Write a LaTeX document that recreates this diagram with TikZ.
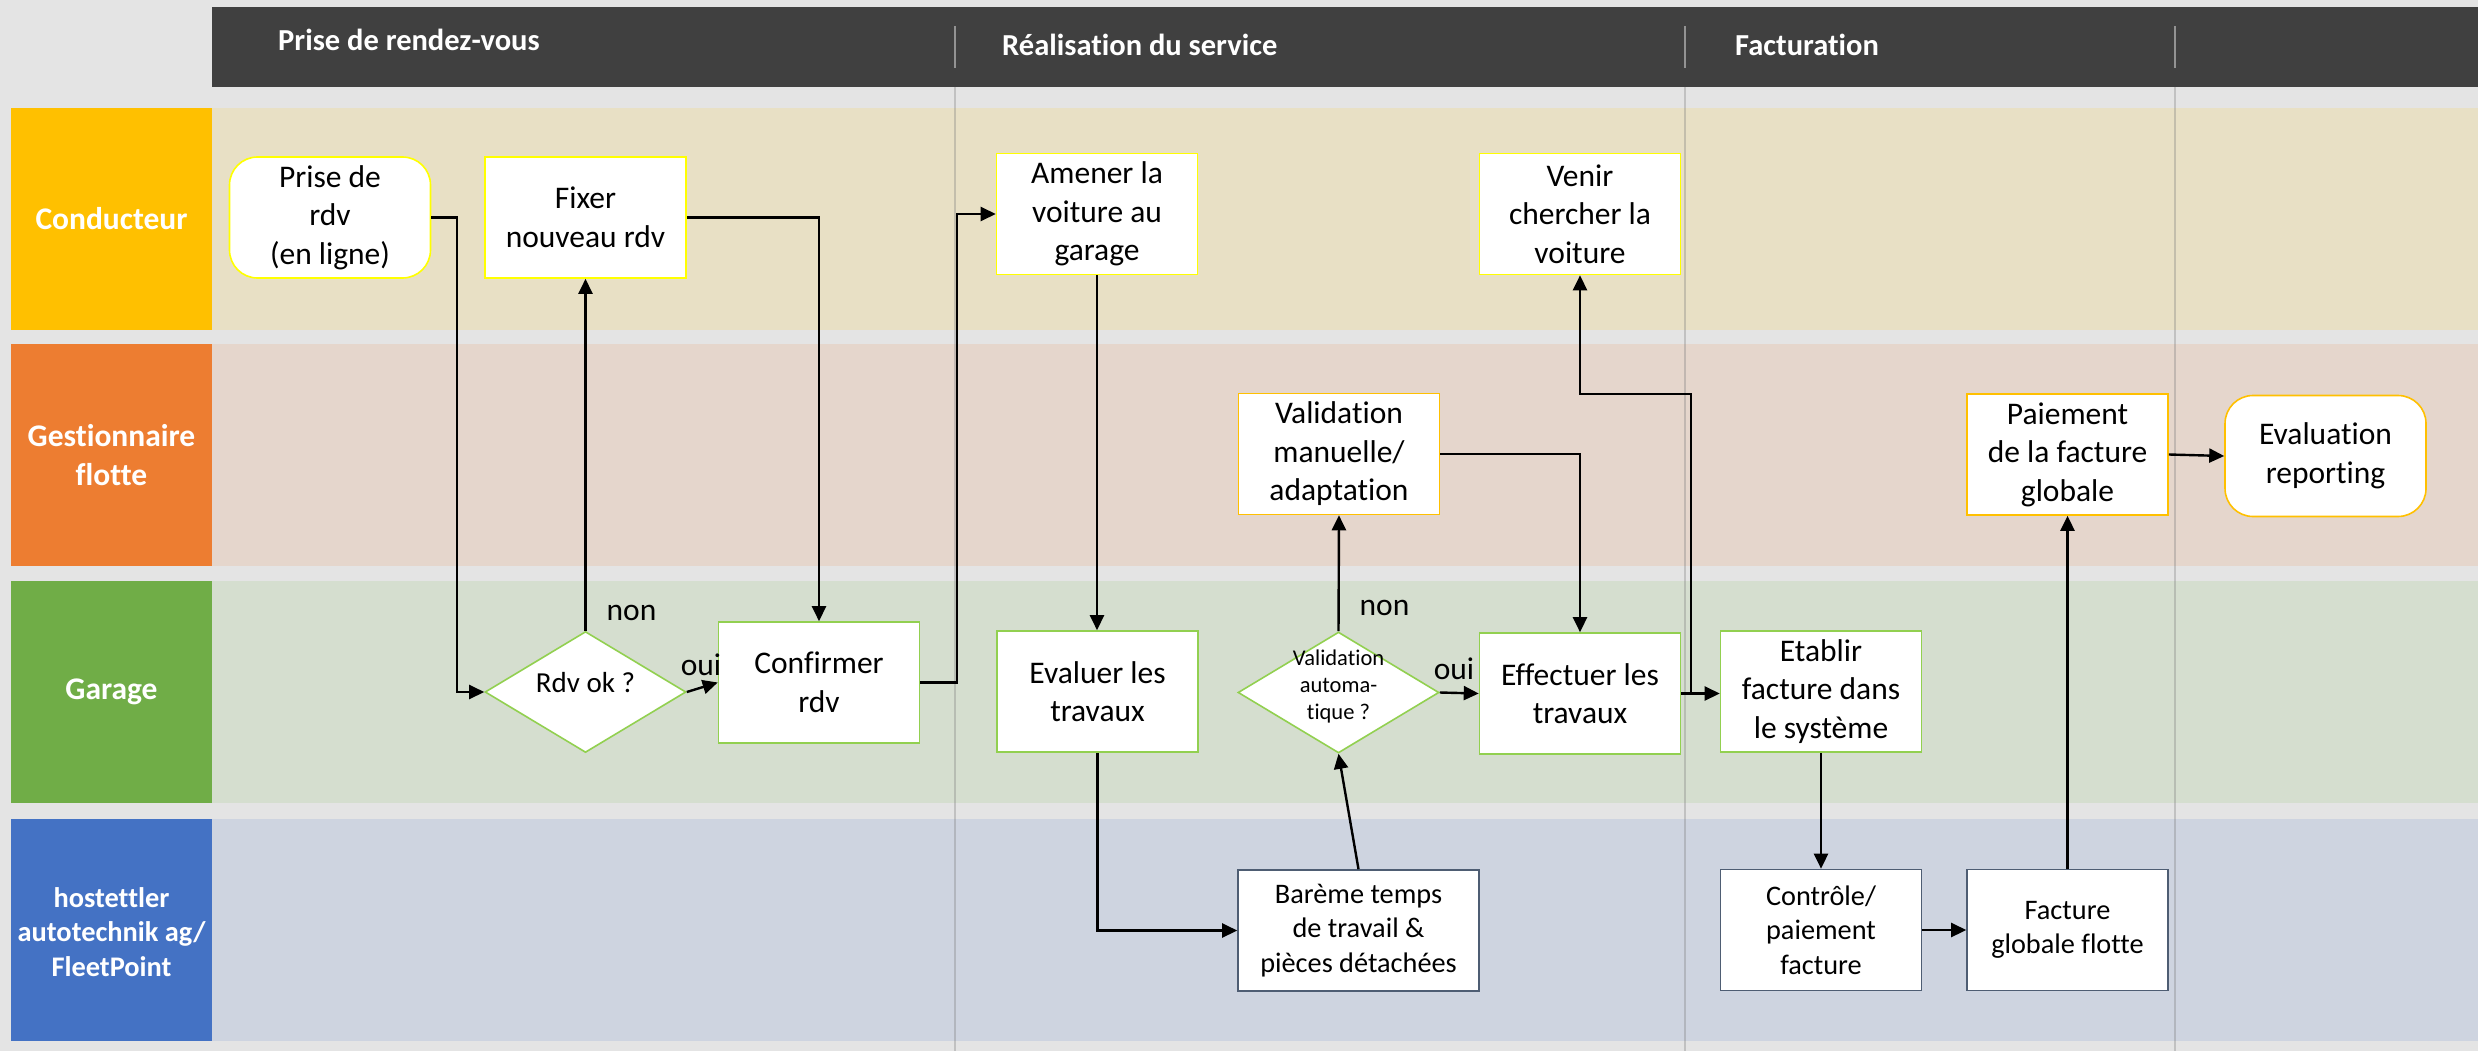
\documentclass[tikz,border=0pt]{standalone}
\usepackage{fontspec}
\setmainfont[Ligatures=NoCommon]{Carlito}
\usetikzlibrary{arrows.meta,shapes.geometric}
\definecolor{bgc}{HTML}{E4E4E4}
\definecolor{hdr}{HTML}{404040}
\definecolor{lane1}{HTML}{E8E0C5}
\definecolor{lane2}{HTML}{E5D6CC}
\definecolor{lane3}{HTML}{D5DECF}
\definecolor{lane4}{HTML}{CED4E0}
\definecolor{lab1}{HTML}{FFC000}
\definecolor{lab2}{HTML}{ED7D31}
\definecolor{lab3}{HTML}{70AD47}
\definecolor{lab4}{HTML}{4472C4}
\definecolor{byel}{HTML}{FFFF00}
\definecolor{bgold}{HTML}{FFC000}
\definecolor{bgreen}{HTML}{92D050}
\definecolor{bslate}{HTML}{4E5D73}
\begin{document}
\begin{tikzpicture}[x=1pt,y=-1pt,
  box/.style={draw, fill=white, line width=1.6pt, minimum width=201pt, minimum height=121pt,
    inner sep=0pt, align=center, font=\fontsize{31.5pt}{38.5pt}\selectfont},
  hbox/.style={box, draw=bslate, font=\fontsize{28.3pt}{34.4pt}\selectfont},
  dia/.style={draw=bgreen, fill=white, line width=1.6pt, shape=diamond, minimum width=201pt,
    minimum height=121pt, inner sep=0pt},
  conn/.style={line width=2.4pt, -{Triangle[length=15pt,width=14pt]}},
  lbl/.style={inner sep=0pt, font=\fontsize{31.5pt}{38.5pt}\selectfont},
  lanelab/.style={text=white, align=center, inner sep=0pt, font=\fontsize{31.5pt}{38.4pt}\selectfont\bfseries},
  hdrtxt/.style={text=white, inner sep=0pt, anchor=base west, font=\fontsize{30.5pt}{36pt}\selectfont\bfseries},
  hsep/.style={draw=gray!85, line width=2.4pt},
  vsep/.style={draw=black!50, opacity=0.35, line width=2.2pt}
]
\useasboundingbox (0,0) rectangle (2478,1051);
\fill[bgc] (0,0) rectangle (2478,1051);
% header
\fill[hdr] (212,7) rectangle (2478,87);
% lanes
\fill[lane1] (212,108) rectangle (2478,330);
\fill[lane2] (212,344) rectangle (2478,566);
\fill[lane3] (212,581) rectangle (2478,803);
\fill[lane4] (212,819) rectangle (2478,1041);
\fill[lab1] (11,108) rectangle (212,330);
\fill[lab2] (11,344) rectangle (212,566);
\fill[lab3] (11,581) rectangle (212,803);
\fill[lab4] (11,819) rectangle (212,1041);
% separators
\foreach \x in {955,1685,2175} {
  \draw[hsep] (\x,26) -- (\x,68);
  \draw[vsep] (\x,87) -- (\x,1051);
}
% header texts
\node[hdrtxt] (h1) at (278,51) {Prise de rendez-vous};
\node[hdrtxt] (h2) at (1002,56) {Réalisation du service};
\node[hdrtxt] (h3) at (1735,56) {Facturation};
% lane labels
\node[lanelab] (l1) at (111.5,219) {Conducteur};
\node[lanelab] (l2) at (111.5,455) {Gestionnaire\\flotte};
\node[lanelab] (l3) at (111.5,692) {Garage};
\node[lanelab, font=\fontsize{28.4pt}{34.5pt}\selectfont\bfseries] (l4) at (111.5,932) {hostettler\\autotechnik ag/\\FleetPoint};
% boxes
\node[box, draw=byel, rounded corners=28pt] (prise) at (330,217.5) {Prise de\\rdv\\(en ligne)};
\node[box, draw=byel] (fixer) at (585.5,217.5) {Fixer\\nouveau rdv};
\node[box, draw=byel] (amener) at (1097,214) {Amener la\\voiture au\\garage};
\node[box, draw=byel] (venir) at (1580,214) {Venir\\chercher la\\voiture};
\node[box, draw=bgold] (valman) at (1339,454) {Validation\\manuelle/\\adaptation};
\node[box, draw=bgold] (paie) at (2067.5,454.5) {Paiement\\de la facture\\globale};
\node[box, draw=bgold, rounded corners=28pt] (evalr) at (2325.5,456) {Evaluation\\reporting};
\node[dia, font=\fontsize{29pt}{35pt}\selectfont] (rdvok) at (585.5,692) {\smash{Rdv ok ?}};
\node[box, draw=bgreen] (confirmer) at (819,682.5) {Confirmer\\rdv};
\node[box, draw=bgreen] (evaluer) at (1097.5,691.5) {Evaluer les\\travaux};
\node[dia, font=\fontsize{22.5pt}{27pt}\selectfont] (valauto) at (1338.5,692.5)
  {\smash{\begin{tabular}{@{}c@{}}Validation\\automa-\\tique ?\end{tabular}}};
\node[box, draw=bgreen] (effectuer) at (1580,693.5) {Effectuer les\\travaux};
\node[box, draw=bgreen] (etablir) at (1821,691.5) {Etablir\\facture dans\\le système};
\node[hbox, minimum width=241pt] (bareme) at (1358.5,930.5) {Barème temps\\de travail \&\\pièces détachées};
\node[hbox] (controle) at (1821,930) {Contrôle/\\paiement\\facture};
\node[hbox] (facture) at (2067.5,930) {Facture\\globale flotte};
% bend points
\coordinate (j1) at (457,692);
\coordinate (j2) at (957,214);
\coordinate (j3) at (1691,394);
% connectors
\draw[conn] (prise.east) -| (j1) -- (rdvok.west);
\draw[conn] (rdvok.north) -- (fixer.south);
\draw[conn] (rdvok.east) -- (confirmer.west);
\draw[conn] (fixer.east) -| (confirmer.north);
\draw[conn] (confirmer.east) -| (j2) -- (amener.west);
\draw[conn] (amener.south) -- (amener.south |- evaluer.north);
\draw[conn] (evaluer.south) |- (bareme.west);
\draw[conn] (bareme.north) -- (valauto.south);
\draw[conn] (valauto.north) -- (valman.south);
\draw[conn] (valauto.east) -- (effectuer.west);
\draw[conn] (valman.east) -| (effectuer.north);
\draw[conn] (effectuer.east) -- (effectuer.east -| etablir.west);
\draw[conn] (effectuer.east) -| (j3) -| (venir.south);
\draw[conn] (etablir.south) -- (controle.north);
\draw[conn] (controle.east) -- (facture.west);
\draw[conn] (facture.north) -- (paie.south);
\draw[conn] (paie.east) -- (evalr.west);
% labels
\node[lbl] (non1) at (631.5,612.5) {non};
\node[lbl] (oui1) at (701,665) {oui};
\node[lbl] (non2) at (1384.5,607.5) {non};
\node[lbl] (oui2) at (1454,669) {oui};
\end{tikzpicture}
\end{document}
